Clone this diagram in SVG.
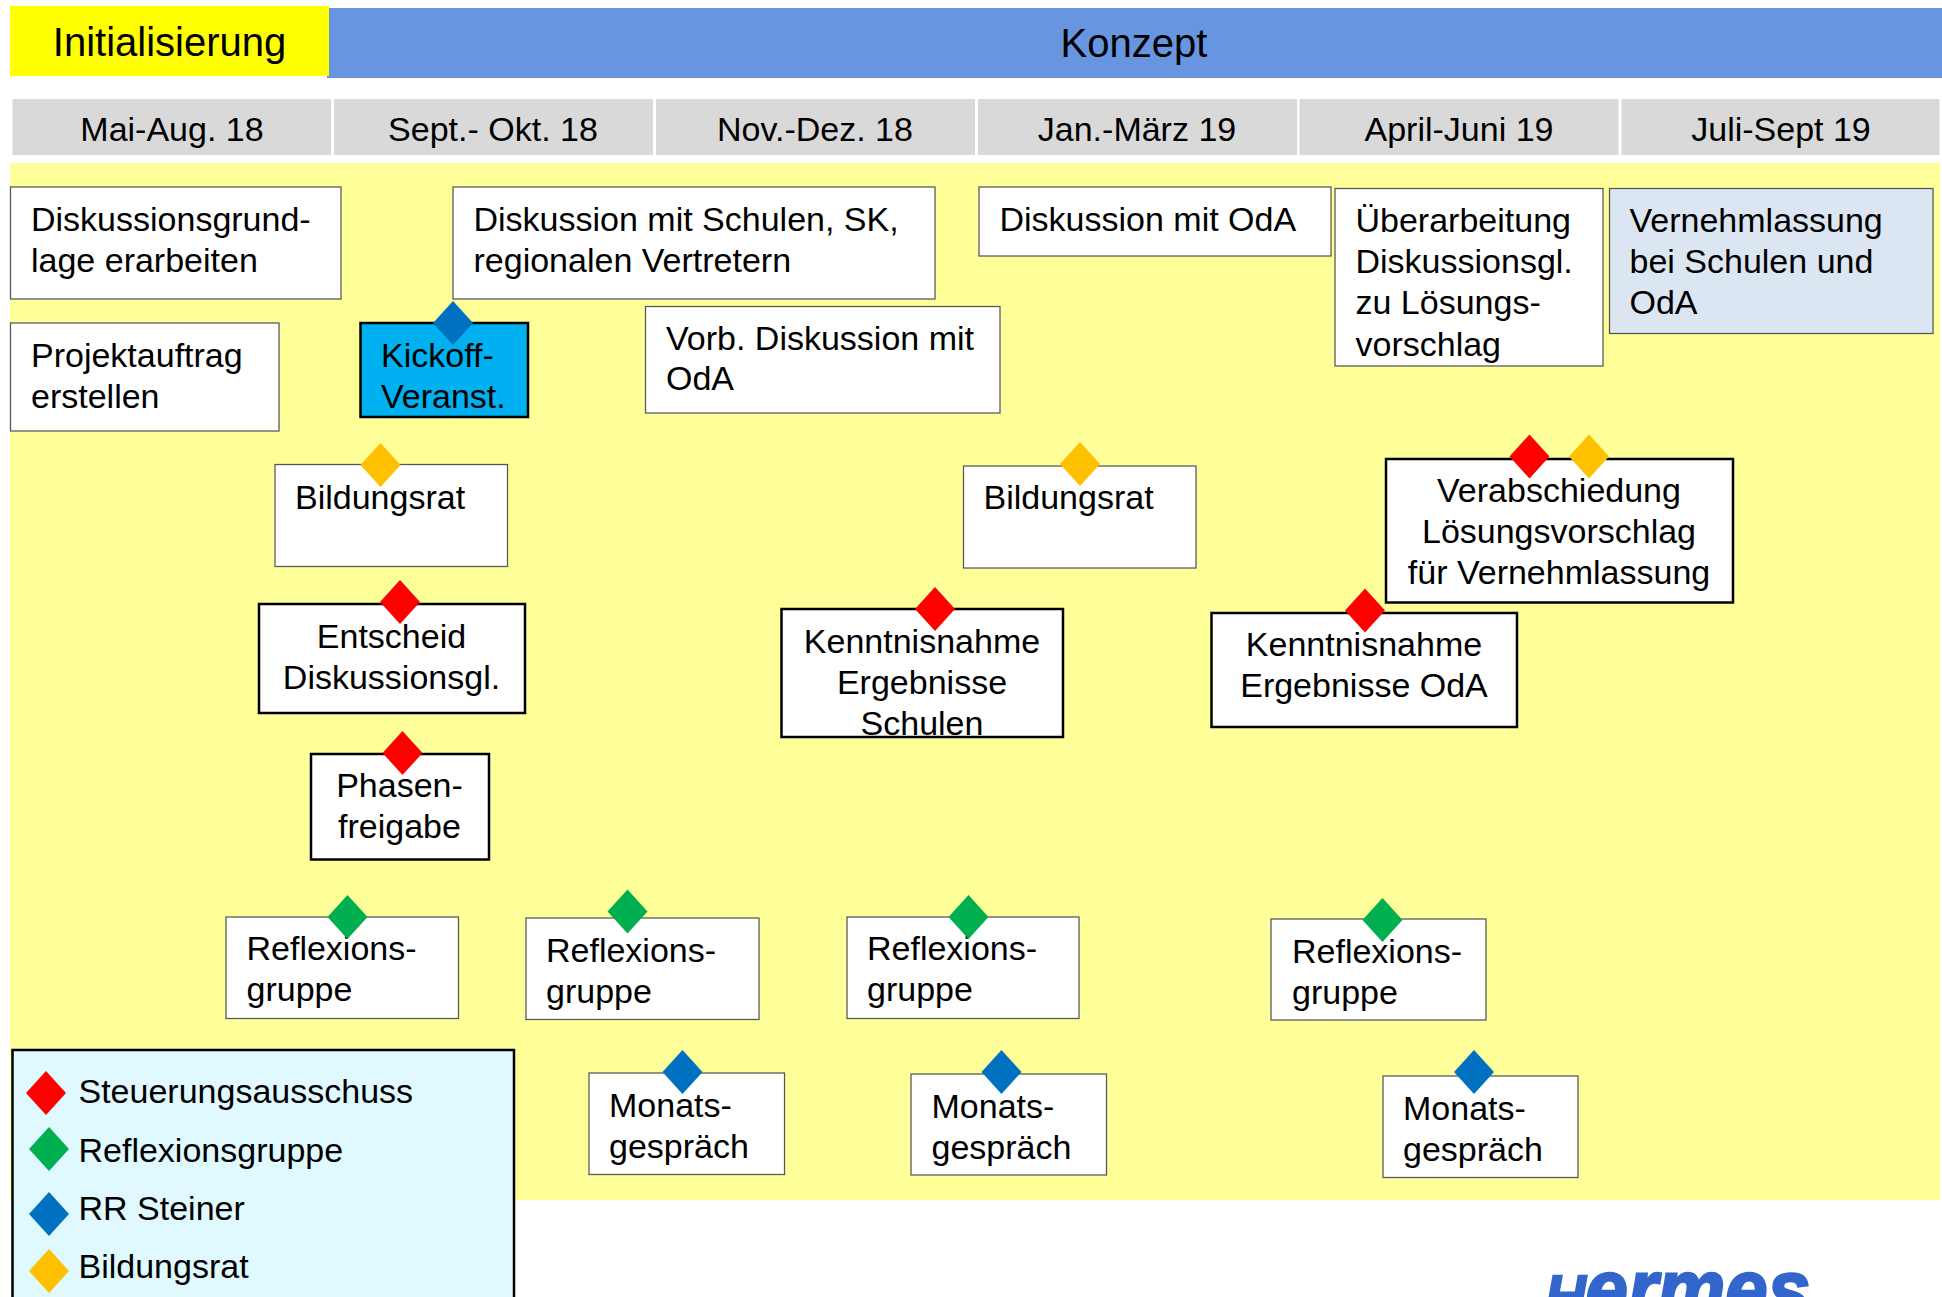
<svg xmlns="http://www.w3.org/2000/svg" width="1942" height="1297" viewBox="0 0 1942 1297">
<style>
text{font-family:"Liberation Sans",Arial,sans-serif;font-size:34px;fill:#000}
.ph{font-size:40px}
.m{text-anchor:middle}
.b{fill:#fff;stroke:#555;stroke-width:1.25}
.k{fill:#fff;stroke:#000;stroke-width:2.5}
.mo{fill:#d9d9d9}
.r{fill:#f00}.g{fill:#00b050}.u{fill:#0070c0}.o{fill:#ffc000}
</style>
<defs><path id="d" d="M0-22L20 0 0 22-20 0Z"/></defs>
<rect width="1942" height="1297" fill="#fff"/>
<rect id="canvas" x="10" y="163" width="1930" height="1037" fill="#ffff99"/>
<g id="phase-konzept"><rect x="327" y="8" width="1615" height="70" fill="#6795e0"/><text class="ph m" x="1134" y="57">Konzept</text></g>
<g id="phase-init"><rect x="10" y="6" width="319" height="70" fill="#ff0"/><text class="ph m" x="169.5" y="56">Initialisierung</text></g>
<g id="months">
<rect class="mo" x="12.5" y="99" width="318.5" height="56"/><text class="m" x="172" y="141">Mai-Aug. 18</text>
<rect class="mo" x="334" y="99" width="319" height="56"/><text class="m" x="493" y="141">Sept.- Okt. 18</text>
<rect class="mo" x="656" y="99" width="319" height="56"/><text class="m" x="815" y="141">Nov.-Dez. 18</text>
<rect class="mo" x="978" y="99" width="319" height="56"/><text class="m" x="1137" y="141">Jan.-März 19</text>
<rect class="mo" x="1299.5" y="99" width="319" height="56"/><text class="m" x="1459" y="141">April-Juni 19</text>
<rect class="mo" x="1621.5" y="99" width="318" height="56"/><text class="m" x="1781" y="141">Juli-Sept 19</text>
</g>
<g id="n-grundlage"><rect class="b" x="10.5" y="187" width="330.5" height="112"/><text x="31" y="231">Diskussionsgrund-</text><text x="31" y="272">lage erarbeiten</text></g>
<g id="n-schulen"><rect class="b" x="453" y="187" width="482" height="112"/><text x="473.5" y="231">Diskussion mit Schulen, SK,</text><text x="473.5" y="272">regionalen Vertretern</text></g>
<g id="n-projekt"><rect class="b" x="10.5" y="323" width="268.5" height="108"/><text x="31" y="367">Projektauftrag</text><text x="31" y="408">erstellen</text></g>
<g id="n-kickoff"><rect x="360.5" y="323" width="167.5" height="94" fill="#00b0f0" stroke="#000" stroke-width="2.5"/><text x="381" y="367">Kickoff-</text><text x="381" y="408">Veranst.</text><use href="#d" class="u" x="453" y="323"/></g>
<g id="n-vorb"><rect class="b" x="645.5" y="306.5" width="354.5" height="106.5"/><text x="666" y="350">Vorb. Diskussion mit</text><text x="666" y="390">OdA</text></g>
<g id="n-oda"><rect class="b" x="979" y="187" width="352" height="69"/><text x="999.5" y="231">Diskussion mit OdA</text></g>
<g id="n-ueber"><rect class="b" x="1335" y="188.5" width="268" height="177.5"/><text x="1355.5" y="232">Überarbeitung</text><text x="1355.5" y="273">Diskussionsgl.</text><text x="1355.5" y="314">zu Lösungs-</text><text x="1355.5" y="356">vorschlag</text></g>
<g id="n-vernehm"><rect x="1609.5" y="188.5" width="323.5" height="145" fill="#dce6f2" stroke="#555" stroke-width="1.25"/><text x="1629.5" y="232">Vernehmlassung</text><text x="1629.5" y="273">bei Schulen und</text><text x="1629.5" y="314">OdA</text></g>
<g id="n-bild1"><rect class="b" x="275" y="464.5" width="232.5" height="102"/><text x="295" y="509">Bildungsrat</text><use href="#d" class="o" x="380.5" y="465"/></g>
<g id="n-bild2"><rect class="b" x="963.5" y="466" width="232.5" height="102"/><text x="983.5" y="509">Bildungsrat</text><use href="#d" class="o" x="1080" y="464"/></g>
<g id="n-verab"><rect class="k" x="1386" y="459" width="347" height="143.5"/><text class="m" x="1559" y="502">Verabschiedung</text><text class="m" x="1559" y="543">Lösungsvorschlag</text><text class="m" x="1559" y="584">für Vernehmlassung</text><use href="#d" class="r" x="1529.5" y="456.5"/><use href="#d" class="o" x="1589" y="456.5"/></g>
<g id="n-entscheid"><rect class="k" x="259" y="604" width="266" height="109"/><text class="m" x="391.5" y="648">Entscheid</text><text class="m" x="391.5" y="689">Diskussionsgl.</text><use href="#d" class="r" x="400" y="602"/></g>
<g id="n-kenntnis1"><rect class="k" x="781.5" y="609" width="281.5" height="128"/><text class="m" x="922" y="653">Kenntnisnahme</text><text class="m" x="922" y="694">Ergebnisse</text><text class="m" x="922" y="735">Schulen</text><use href="#d" class="r" x="935" y="609"/></g>
<g id="n-kenntnis2"><rect class="k" x="1211.5" y="613" width="305.5" height="114"/><text class="m" x="1364" y="656">Kenntnisnahme</text><text class="m" x="1364" y="697">Ergebnisse OdA</text><use href="#d" class="r" x="1365" y="610.5"/></g>
<g id="n-phasen"><rect class="k" x="311" y="754" width="178" height="105.5"/><text class="m" x="399.5" y="797">Phasen-</text><text class="m" x="399.5" y="838">freigabe</text><use href="#d" class="r" x="402.5" y="753"/></g>
<g id="n-refl1"><rect class="b" x="226" y="917" width="232.5" height="101.5"/><text x="246.5" y="960">Reflexions-</text><text x="246.5" y="1001">gruppe</text><use href="#d" class="g" x="347.5" y="917"/></g>
<g id="n-refl2"><rect class="b" x="526" y="918" width="233" height="101.5"/><text x="546" y="962">Reflexions-</text><text x="546" y="1003">gruppe</text><use href="#d" class="g" x="627.5" y="911.5"/></g>
<g id="n-refl3"><rect class="b" x="847" y="917" width="232" height="101.5"/><text x="867" y="960">Reflexions-</text><text x="867" y="1001">gruppe</text><use href="#d" class="g" x="968.5" y="917"/></g>
<g id="n-refl4"><rect class="b" x="1271" y="919" width="215" height="101"/><text x="1292" y="963">Reflexions-</text><text x="1292" y="1004">gruppe</text><use href="#d" class="g" x="1382.5" y="920"/></g>
<g id="n-mon1"><rect class="b" x="589" y="1073" width="195.5" height="101.5"/><text x="609" y="1117">Monats-</text><text x="609" y="1158">gespräch</text><use href="#d" class="u" x="682.5" y="1072"/></g>
<g id="n-mon2"><rect class="b" x="911" y="1074" width="195.5" height="101"/><text x="931.5" y="1118">Monats-</text><text x="931.5" y="1159">gespräch</text><use href="#d" class="u" x="1001.5" y="1072"/></g>
<g id="n-mon3"><rect class="b" x="1383" y="1076" width="195" height="101.5"/><text x="1403" y="1120">Monats-</text><text x="1403" y="1161">gespräch</text><use href="#d" class="u" x="1474" y="1072"/></g>
<g id="legend"><rect x="12.5" y="1050" width="501.5" height="260" fill="#dff9ff" stroke="#000" stroke-width="2.5"/>
<use href="#d" class="r" x="46" y="1093"/><text x="78.5" y="1103">Steuerungsausschuss</text>
<use href="#d" class="g" x="49" y="1149"/><text x="78.5" y="1162">Reflexionsgruppe</text>
<use href="#d" class="u" x="49" y="1214"/><text x="78.5" y="1220">RR Steiner</text>
<use href="#d" class="o" x="49" y="1271"/><text x="78.5" y="1278">Bildungsrat</text></g>
<g id="logo"><text x="1545" y="1318" textLength="265" lengthAdjust="spacingAndGlyphs" style="font-weight:bold;font-style:italic;fill:#3366cc;stroke:#3366cc;stroke-width:2.5"><tspan style="font-size:62px">H</tspan><tspan style="font-size:84px">ermes</tspan></text></g>
</svg>
